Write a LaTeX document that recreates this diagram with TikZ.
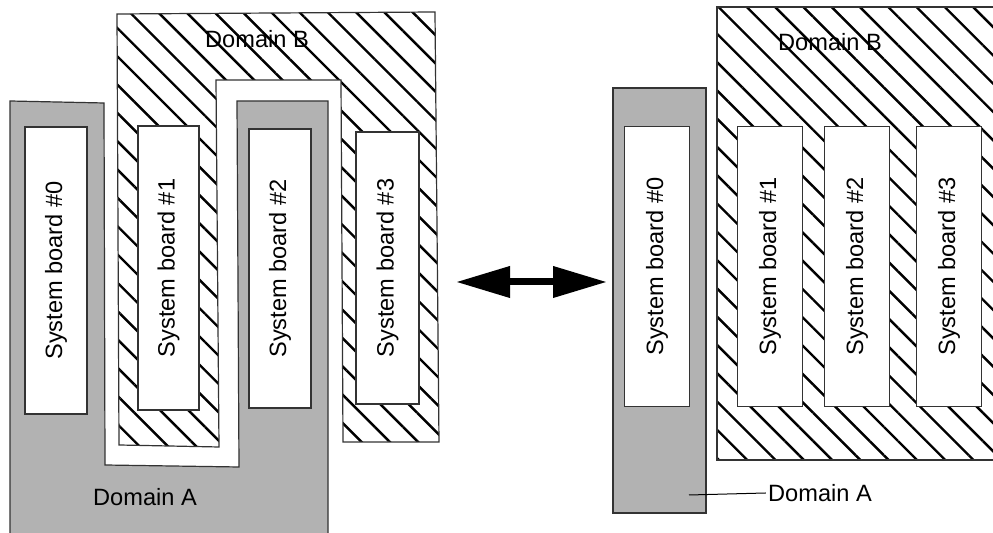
\documentclass[tikz,border=0pt]{standalone}
\usepackage{fontspec}
\setmainfont{Liberation Sans}
\usetikzlibrary{patterns.meta,arrows.meta}
\tikzset{
  domA/.style={fill=black!30, draw=black!80, line width=0.6pt},
  domB/.style={pattern={Lines[angle=-45,distance=10pt,line width=1.2pt]}, draw=black!80, line width=0.6pt},
  board/.style={draw=black!80, fill=white, line width=0.6pt, rotate=90, inner sep=0pt},
  lbl/.style={inner sep=1pt}
}
\begin{document}
\begin{tikzpicture}[x=0.5pt, y=-0.5pt, font=\fontsize{11.8}{14}\selectfont]
    \useasboundingbox (0,0) rectangle (993,533);
    % before: domains interleaved
    \draw[domB] (117,14) -- (435,12) -- (439,442) -- (343,442) -- (341,80)
      -- (216,80) -- (219,447) -- (119,445) -- cycle;
    \draw[domA] (10,101) -- (104,103) -- (105,465) -- (239,467) -- (237,101)
      -- (328,101) -- (328,545) -- (10,545) -- cycle;
    \node[board, minimum width=143.5pt, minimum height=31pt] (la0) at (56,270.5) {System board \#0};
    \node[board, minimum width=142pt, minimum height=30.5pt] (lb1) at (168.5,268) {System board \#1};
    \node[board, minimum width=139.5pt, minimum height=31pt] (la2) at (280,268.5) {System board \#2};
    \node[board, minimum width=136pt, minimum height=31.5pt] (lb3) at (387.5,268) {System board \#3};
    \node[lbl] (lDomB) at (257,39) {Domain B};
    \node[lbl] (lDomA) at (145,497) {Domain A};
    % after: domains side by side
    \draw[domA] (613,88) rectangle (706,513);
    \draw[domB] (717,7) rectangle (1000,460);
    \foreach \i/\x in {0/657,1/770,2/857,3/949}
      \node[board, minimum width=140pt, minimum height=32.5pt] (r\i) at (\x,266.5) {System board \#\i};
    \node[lbl] (rDomB) at (830,42) {Domain B};
    \node[lbl] (rDomA) at (820,493) {Domain A};
    \coordinate (pA) at (689,495);
    \draw[black, line width=0.5pt] (pA) -- (rDomA.west);
    % arrow between the two
    \coordinate (arL) at (456,282);
    \coordinate (arR) at (607,282);
    \draw[line width=3.5pt, {Triangle[length=27pt,width=15pt]}-{Triangle[length=27pt,width=15pt]}] (arL) -- (arR);
\end{tikzpicture}
\end{document}
